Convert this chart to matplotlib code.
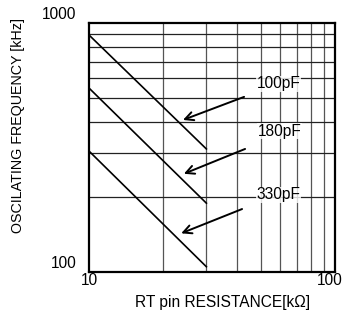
import matplotlib.pyplot as plt
import matplotlib.transforms as mtransforms
import numpy as np

plt.rcParams['font.family'] = ['Liberation Sans', 'DejaVu Sans']

# resistance [kOhm] and frequency [kHz]
r = [10, 30]
f_100 = [895, 312]
f_180 = [548, 189]
f_330 = [306, 105]

labels = ['100pF', '180pF', '330pF']
label_pos = [(48.2, 569), (48.4, 368), (47.8, 204)]
arrow_tail = [(42.7, 505), (43.1, 312), (41.9, 179)]
arrow_head = [(24.1, 408), (24.3, 248), (23.7, 143)]

fig = plt.figure(figsize=(3.43, 3.11), dpi=100)
ax = fig.add_axes([89 / 343, 1 - 272 / 311, 246 / 343, 249 / 311])

for f in (f_100, f_180, f_330):
    ax.plot(r, f, color='k', lw=1.2, zorder=3)

ax.set_xscale('log')
ax.set_yscale('log')
ax.set_xlim(10, 100)
ax.set_ylim(100, 1000)

ax.set_xticks([10, 100])
ax.set_xticklabels(['10', '100'])
ax.set_yticks([100, 1000])
ax.set_yticklabels(['100', '1000'])
ax.set_xticks([20, 30, 40, 50, 60, 70, 80, 90], minor=True)
ax.set_yticks([200, 300, 400, 500, 600, 700, 800, 900], minor=True)
ax.xaxis.set_minor_formatter(plt.NullFormatter())
ax.yaxis.set_minor_formatter(plt.NullFormatter())
ax.tick_params(which='both', length=0, labelsize=11.2, colors='k')
ax.tick_params(axis='x', pad=0.5)
ax.tick_params(axis='y', pad=9)

off = mtransforms.ScaledTranslation(0, 10 / 100, fig.dpi_scale_trans)
for lab in ax.get_yticklabels():
    lab.set_transform(lab.get_transform() + off)
# keep the right-hand "100" inside the figure
xl = ax.get_xticklabels()[-1]
xl.set_transform(xl.get_transform() + mtransforms.ScaledTranslation(-5 / 100, 0, fig.dpi_scale_trans))

ax.grid(True, which='minor', axis='x', color='#555555', lw=0.9)
ax.grid(True, which='minor', axis='y', color='#222222', lw=0.9)
for sp in ax.spines.values():
    sp.set_linewidth(1.6)

for lab, (lx, ly), (tx, ty), (hx, hy) in zip(labels, label_pos, arrow_tail, arrow_head):
    ax.text(lx, ly, lab, fontsize=11.2, va='center', ha='left', zorder=4,
            bbox=dict(facecolor='white', edgecolor='none', pad=0.5, alpha=0.8))
    ax.annotate('', xy=(hx, hy), xytext=(tx, ty), zorder=5,
                arrowprops=dict(arrowstyle='->,head_length=0.6,head_width=0.3',
                                color='k', lw=1.4, shrinkA=0, shrinkB=0))

fig.text(223 / 343, 1 - 302 / 311, 'RT pin RESISTANCE[k\u03a9]', fontsize=11.2,
         ha='center', va='center')
fig.text(18 / 343, 1 - 126 / 311, 'OSCILATING FREQUENCY [kHz]', rotation=90,
         fontsize=10.3, ha='center', va='center')

fig.savefig('out.png', dpi=100)
